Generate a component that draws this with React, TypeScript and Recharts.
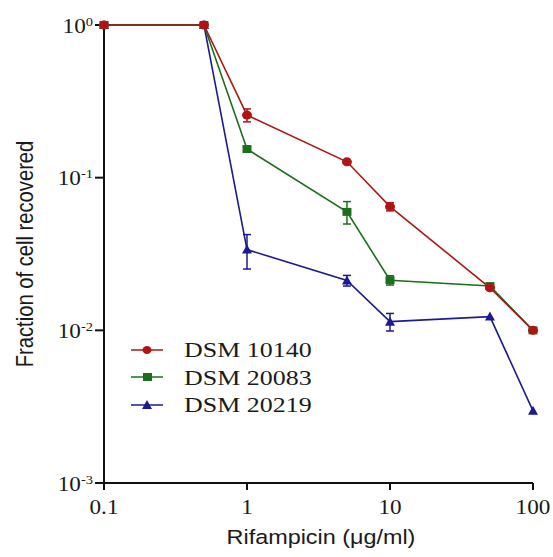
import React from "react";
import { ErrorBar, Legend, Line, LineChart, XAxis, YAxis, Label } from "recharts";

// rifampicin concentration (µg/ml)
const conc = [0.1, 0.5, 1, 5, 10, 50, 100];

const dsm10140 = [1, 1, 0.257, 0.127, 0.0646, 0.019, 0.01];
const dsm10140Err = [0, 0, 0.025, 0.003, 0.004, 0, 0];
const dsm20083 = [1, 1, 0.154, 0.0597, 0.0213, 0.0195, 0.01];
const dsm20083Err = [0, 0, 0.004, 0.01, 0.0015, 0, 0];
const dsm20219 = [1, 1, 0.0338, 0.0212, 0.0114, 0.0123, 0.00297];
const dsm20219Err = [0, 0, 0.0086, 0.0017, 0.0015, 0, 0];

const xTicks = [0.1, 1, 10, 100];
const yTicks = [1, 0.1, 0.01, 0.001];

const RED = "#B01515";
const GREEN = "#1C6E1C";
const BLUE = "#1A1A96";
const INK = "#1a1a1a";
const SERIF = "'Liberation Serif', 'DejaVu Serif', serif";
const SANS = "'Liberation Sans', Arial, sans-serif";
// the source figure is a bit stretched sideways
const SX = 1.16;

const data = conc.map((x, i) => ({
  x,
  a: dsm10140[i],
  aErr: dsm10140Err[i],
  b: dsm20083[i],
  bErr: dsm20083Err[i],
  c: dsm20219[i],
  cErr: dsm20219Err[i],
}));

const YTick = (props: any) => {
  const { x, y, payload } = props;
  const exp = Math.round(Math.log10(payload.value));
  return (
    <text
      transform={`translate(${x},${y + 7.5}) scale(${SX},1)`}
      textAnchor="end"
      fontFamily={SERIF}
      fontSize={20}
      fill={INK}
    >
      10
      <tspan dy={-7} fontSize={12.5}>
        {exp === 0 ? "0" : "-" + Math.abs(exp)}
      </tspan>
    </text>
  );
};

const XTick = (props: any) => {
  const { x, y, payload } = props;
  return (
    <text
      transform={`translate(${x},${y + 22}) scale(${SX},1)`}
      textAnchor="middle"
      fontFamily={SERIF}
      fontSize={20}
      fill={INK}
    >
      {String(payload.value)}
    </text>
  );
};

const Square = (props: any) => {
  const { cx, cy } = props;
  if (cx == null || cy == null) return null;
  return <rect x={cx - 4.5} y={cy - 4} width={9} height={8} fill={GREEN} />;
};

const Triangle = (props: any) => {
  const { cx, cy } = props;
  if (cx == null || cy == null) return null;
  return <path d={`M${cx},${cy - 5} L${cx + 5},${cy + 4} L${cx - 5},${cy + 4} Z`} fill={BLUE} />;
};

const Dot = (props: any) => {
  const { cx, cy } = props;
  if (cx == null || cy == null) return null;
  return <ellipse cx={cx} cy={cy} rx={5} ry={4.5} fill={RED} />;
};

const legendItems = [
  { name: "DSM 10140", color: RED, shape: "circle" },
  { name: "DSM 20083", color: GREEN, shape: "square" },
  { name: "DSM 20219", color: BLUE, shape: "triangle" },
];

const LegendContent = () => (
  <div>
    {legendItems.map((it) => (
      <div key={it.name} style={{ display: "flex", alignItems: "center", height: 27.5 }}>
        <svg width={36} height={14} style={{ marginRight: 19, flexShrink: 0 }}>
          <line x1={2} y1={7} x2={34} y2={7} stroke={it.color} strokeWidth={1.5} />
          {it.shape === "circle" && <ellipse cx={18} cy={7} rx={4.5} ry={4} fill={it.color} />}
          {it.shape === "square" && <rect x={14} y={3} width={9} height={8} fill={it.color} />}
          {it.shape === "triangle" && <path d="M18,2 L23,11 L13,11 Z" fill={it.color} />}
        </svg>
        <span
          style={{
            display: "inline-block",
            fontFamily: SERIF,
            fontSize: 22,
            lineHeight: "27px",
            color: INK,
            whiteSpace: "nowrap",
            transform: "scaleX(1.18)",
            transformOrigin: "left center",
          }}
        >
          {it.name}
        </span>
      </div>
    ))}
  </div>
);

export default function App() {
  return (
    <div style={{ position: "absolute", left: 0, top: 0, width: 553, height: 557, background: "#fff" }}>
      <LineChart width={553} height={557} data={data} margin={{ top: 25, right: 20, bottom: 0, left: 0 }}>
        <XAxis
          dataKey="x"
          type="number"
          scale="log"
          domain={[0.1, 100]}
          ticks={xTicks}
          height={74}
          tick={<XTick />}
          tickSize={7}
          tickMargin={2}
          axisLine={{ stroke: "#111", strokeWidth: 2 }}
          tickLine={{ stroke: "#111", strokeWidth: 2 }}
        >
          <Label
            content={() => (
              <text
                transform={`translate(321,544) scale(1.2,1)`}
                textAnchor="middle"
                fontFamily={SANS}
                fontSize={19.5}
                fill={INK}
              >
                Rifampicin (μg/ml)
              </text>
            )}
          />
        </XAxis>
        <YAxis
          type="number"
          scale="log"
          domain={[0.001, 1]}
          ticks={yTicks}
          width={104}
          tick={<YTick />}
          tickSize={9}
          tickMargin={2}
          axisLine={{ stroke: "#111", strokeWidth: 2 }}
          tickLine={{ stroke: "#111", strokeWidth: 2 }}
        >
          <Label
            content={() => (
              <text
                transform={`translate(33,254) scale(${SX},1) rotate(-90)`}
                textAnchor="middle"
                fontFamily={SANS}
                fontSize={20.2}
                fill={INK}
              >
                Fraction of cell recovered
              </text>
            )}
          />
        </YAxis>
        <Legend
          layout="vertical"
          verticalAlign="middle"
          align="center"
          content={<LegendContent />}
          wrapperStyle={{ left: 129, top: 336, width: 240 }}
        />
        <Line
          dataKey="c"
          name="DSM 20219"
          stroke={BLUE}
          strokeWidth={1.6}
          dot={<Triangle />}
          activeDot={false}
          isAnimationActive={false}
        >
          <ErrorBar dataKey="cErr" width={4} stroke={BLUE} strokeWidth={1.5} direction="y" />
        </Line>
        <Line
          dataKey="b"
          name="DSM 20083"
          stroke={GREEN}
          strokeWidth={1.6}
          dot={<Square />}
          activeDot={false}
          isAnimationActive={false}
        >
          <ErrorBar dataKey="bErr" width={4} stroke={GREEN} strokeWidth={1.5} direction="y" />
        </Line>
        <Line
          dataKey="a"
          name="DSM 10140"
          stroke={RED}
          strokeWidth={1.6}
          dot={<Dot />}
          activeDot={false}
          isAnimationActive={false}
        >
          <ErrorBar dataKey="aErr" width={4} stroke={RED} strokeWidth={1.5} direction="y" />
        </Line>
      </LineChart>
    </div>
  );
}
